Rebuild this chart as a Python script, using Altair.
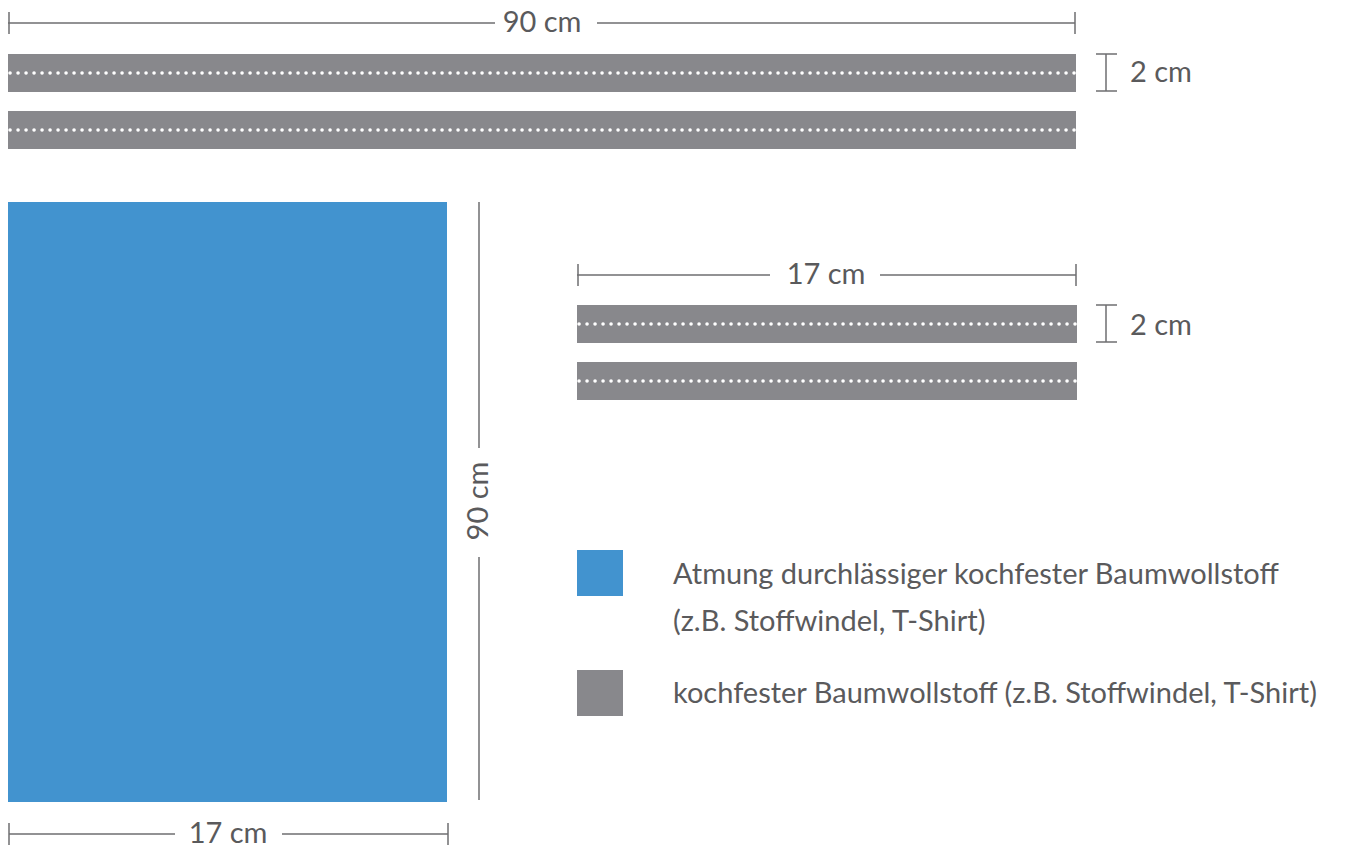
import altair as alt
import pandas as pd

# ---- data (page-pixel layout units) ----
BLUE = "#4293cf"
GRAY = "#88888c"
INK = "#5a5a5c"
LINE = "#6e6e70"

# fabric pieces: x0, x1, y0, y1, kind
piece_x0 = [8, 8, 577, 577, 8]
piece_x1 = [1076, 1076, 1077, 1077, 447]
piece_y0 = [54, 111, 305, 362, 202]
piece_y1 = [92, 149, 343, 400, 802]
piece_kind = ["strip", "strip", "strip", "strip", "pad"]

# seams (dotted) along strips
seam_x0 = [10, 10, 579, 579]
seam_x1 = [1075, 1075, 1076, 1076]
seam_y = [73, 130, 324, 381]

# dimension lines (horizontal segments)
hseg_x0 = [8, 597, 577, 880, 9, 282, 1096, 1096, 1096, 1096]
hseg_x1 = [495, 1075, 770, 1076, 175, 448, 1117, 1117, 1117, 1117]
hseg_y = [23, 23, 275, 275, 834, 834, 54, 91, 305, 342]

# vertical segments (end ticks, vertical dimension, 2 cm brackets)
vseg_x = [9, 1075, 578, 1076, 9, 448, 479, 479, 1106, 1106]
vseg_y0 = [12, 12, 264, 264, 823, 823, 202, 557, 54, 305]
vseg_y1 = [34, 34, 286, 286, 845, 845, 448, 800, 91, 342]

# dimension labels
dim_text = ["90 cm", "17 cm", "17 cm"]
dim_x = [542, 826, 228]
dim_y = [23, 275, 834]

side_text = ["2 cm", "2 cm"]
side_x = [1130, 1130]
side_y = [73, 326]

vert_text = ["90 cm"]
vert_x = [479]
vert_y = [501]

# legend
leg_kind = ["pad", "strip"]
leg_x0 = [577, 577]
leg_x1 = [623, 623]
leg_y0 = [550, 670]
leg_y1 = [596, 716]
leg_text = [
    "Atmung durchlässiger kochfester Baumwollstoff",
    "(z.B. Stoffwindel, T-Shirt)",
    "kochfester Baumwollstoff (z.B. Stoffwindel, T-Shirt)",
]
leg_tx = [673, 673, 673]
leg_ty = [575, 622, 694]

W, H = 1329, 832
xs = alt.Scale(domain=[8, 8 + W], nice=False, zero=False)
ys = alt.Scale(domain=[8, 8 + H], nice=False, zero=False, reverse=True)
color_scale = alt.Scale(domain=["pad", "strip"], range=[BLUE, GRAY])

FONT = "Lato"
FS = 29
FW = 400

pieces = pd.DataFrame(dict(x=piece_x0, x2=piece_x1, y=piece_y0, y2=piece_y1, kind=piece_kind))
seams = pd.DataFrame(dict(x=seam_x0, x2=seam_x1, y=seam_y))
hsegs = pd.DataFrame(dict(x=hseg_x0, x2=hseg_x1, y=hseg_y))
vsegs = pd.DataFrame(dict(x=vseg_x, y=vseg_y0, y2=vseg_y1))
dims = pd.DataFrame(dict(x=dim_x, y=dim_y, t=dim_text))
sides = pd.DataFrame(dict(x=side_x, y=side_y, t=side_text))
verts = pd.DataFrame(dict(x=vert_x, y=vert_y, t=vert_text))
legsq = pd.DataFrame(dict(x=leg_x0, x2=leg_x1, y=leg_y0, y2=leg_y1, kind=leg_kind))
legtx = pd.DataFrame(dict(x=leg_tx, y=leg_ty, t=leg_text))

X = lambda f="x": alt.X(f"{f}:Q", scale=xs, axis=None)
Y = lambda f="y": alt.Y(f"{f}:Q", scale=ys, axis=None)

rects = alt.Chart(pieces).mark_rect().encode(
    x=X(), x2="x2:Q", y=Y(), y2="y2:Q",
    color=alt.Color("kind:N", scale=color_scale, legend=None),
)
legend_rects = alt.Chart(legsq).mark_rect().encode(
    x=X(), x2="x2:Q", y=Y(), y2="y2:Q",
    color=alt.Color("kind:N", scale=color_scale, legend=None),
)
seam_rules = alt.Chart(seams).mark_rule(
    color="white", strokeWidth=3.5, strokeCap="round", strokeDash=[0.1, 7.9]
).encode(x=X(), x2="x2:Q", y=Y())
h_rules = alt.Chart(hsegs).mark_rule(color=LINE, strokeWidth=1.5).encode(
    x=X(), x2="x2:Q", y=Y()
)
v_rules = alt.Chart(vsegs).mark_rule(color=LINE, strokeWidth=1.5).encode(
    x=X(), y=Y(), y2="y2:Q"
)
dim_labels = alt.Chart(dims).mark_text(
    font=FONT, fontSize=FS, fontWeight=FW, color=INK, align="center", baseline="middle"
).encode(x=X(), y=Y(), text="t:N")
side_labels = alt.Chart(sides).mark_text(
    font=FONT, fontSize=FS, fontWeight=FW, color=INK, align="left", baseline="middle"
).encode(x=X(), y=Y(), text="t:N")
vert_labels = alt.Chart(verts).mark_text(
    font=FONT, fontSize=FS, fontWeight=FW, color=INK, align="center", baseline="middle", angle=270
).encode(x=X(), y=Y(), text="t:N")
leg_labels = alt.Chart(legtx).mark_text(
    font=FONT, fontSize=FS, fontWeight=FW, color=INK, align="left", baseline="middle"
).encode(x=X(), y=Y(), text="t:N")

chart = alt.layer(
    rects, seam_rules, h_rules, v_rules, legend_rects,
    dim_labels, side_labels, vert_labels, leg_labels,
).properties(
    width=W, height=H,
    padding={"top": 0, "left": 0, "right": 0, "bottom": 8},
    autosize=alt.AutoSizeParams(type="none"),
).configure_view(stroke=None)

chart.save("out.html", embed_options={"renderer": "svg", "actions": False})
